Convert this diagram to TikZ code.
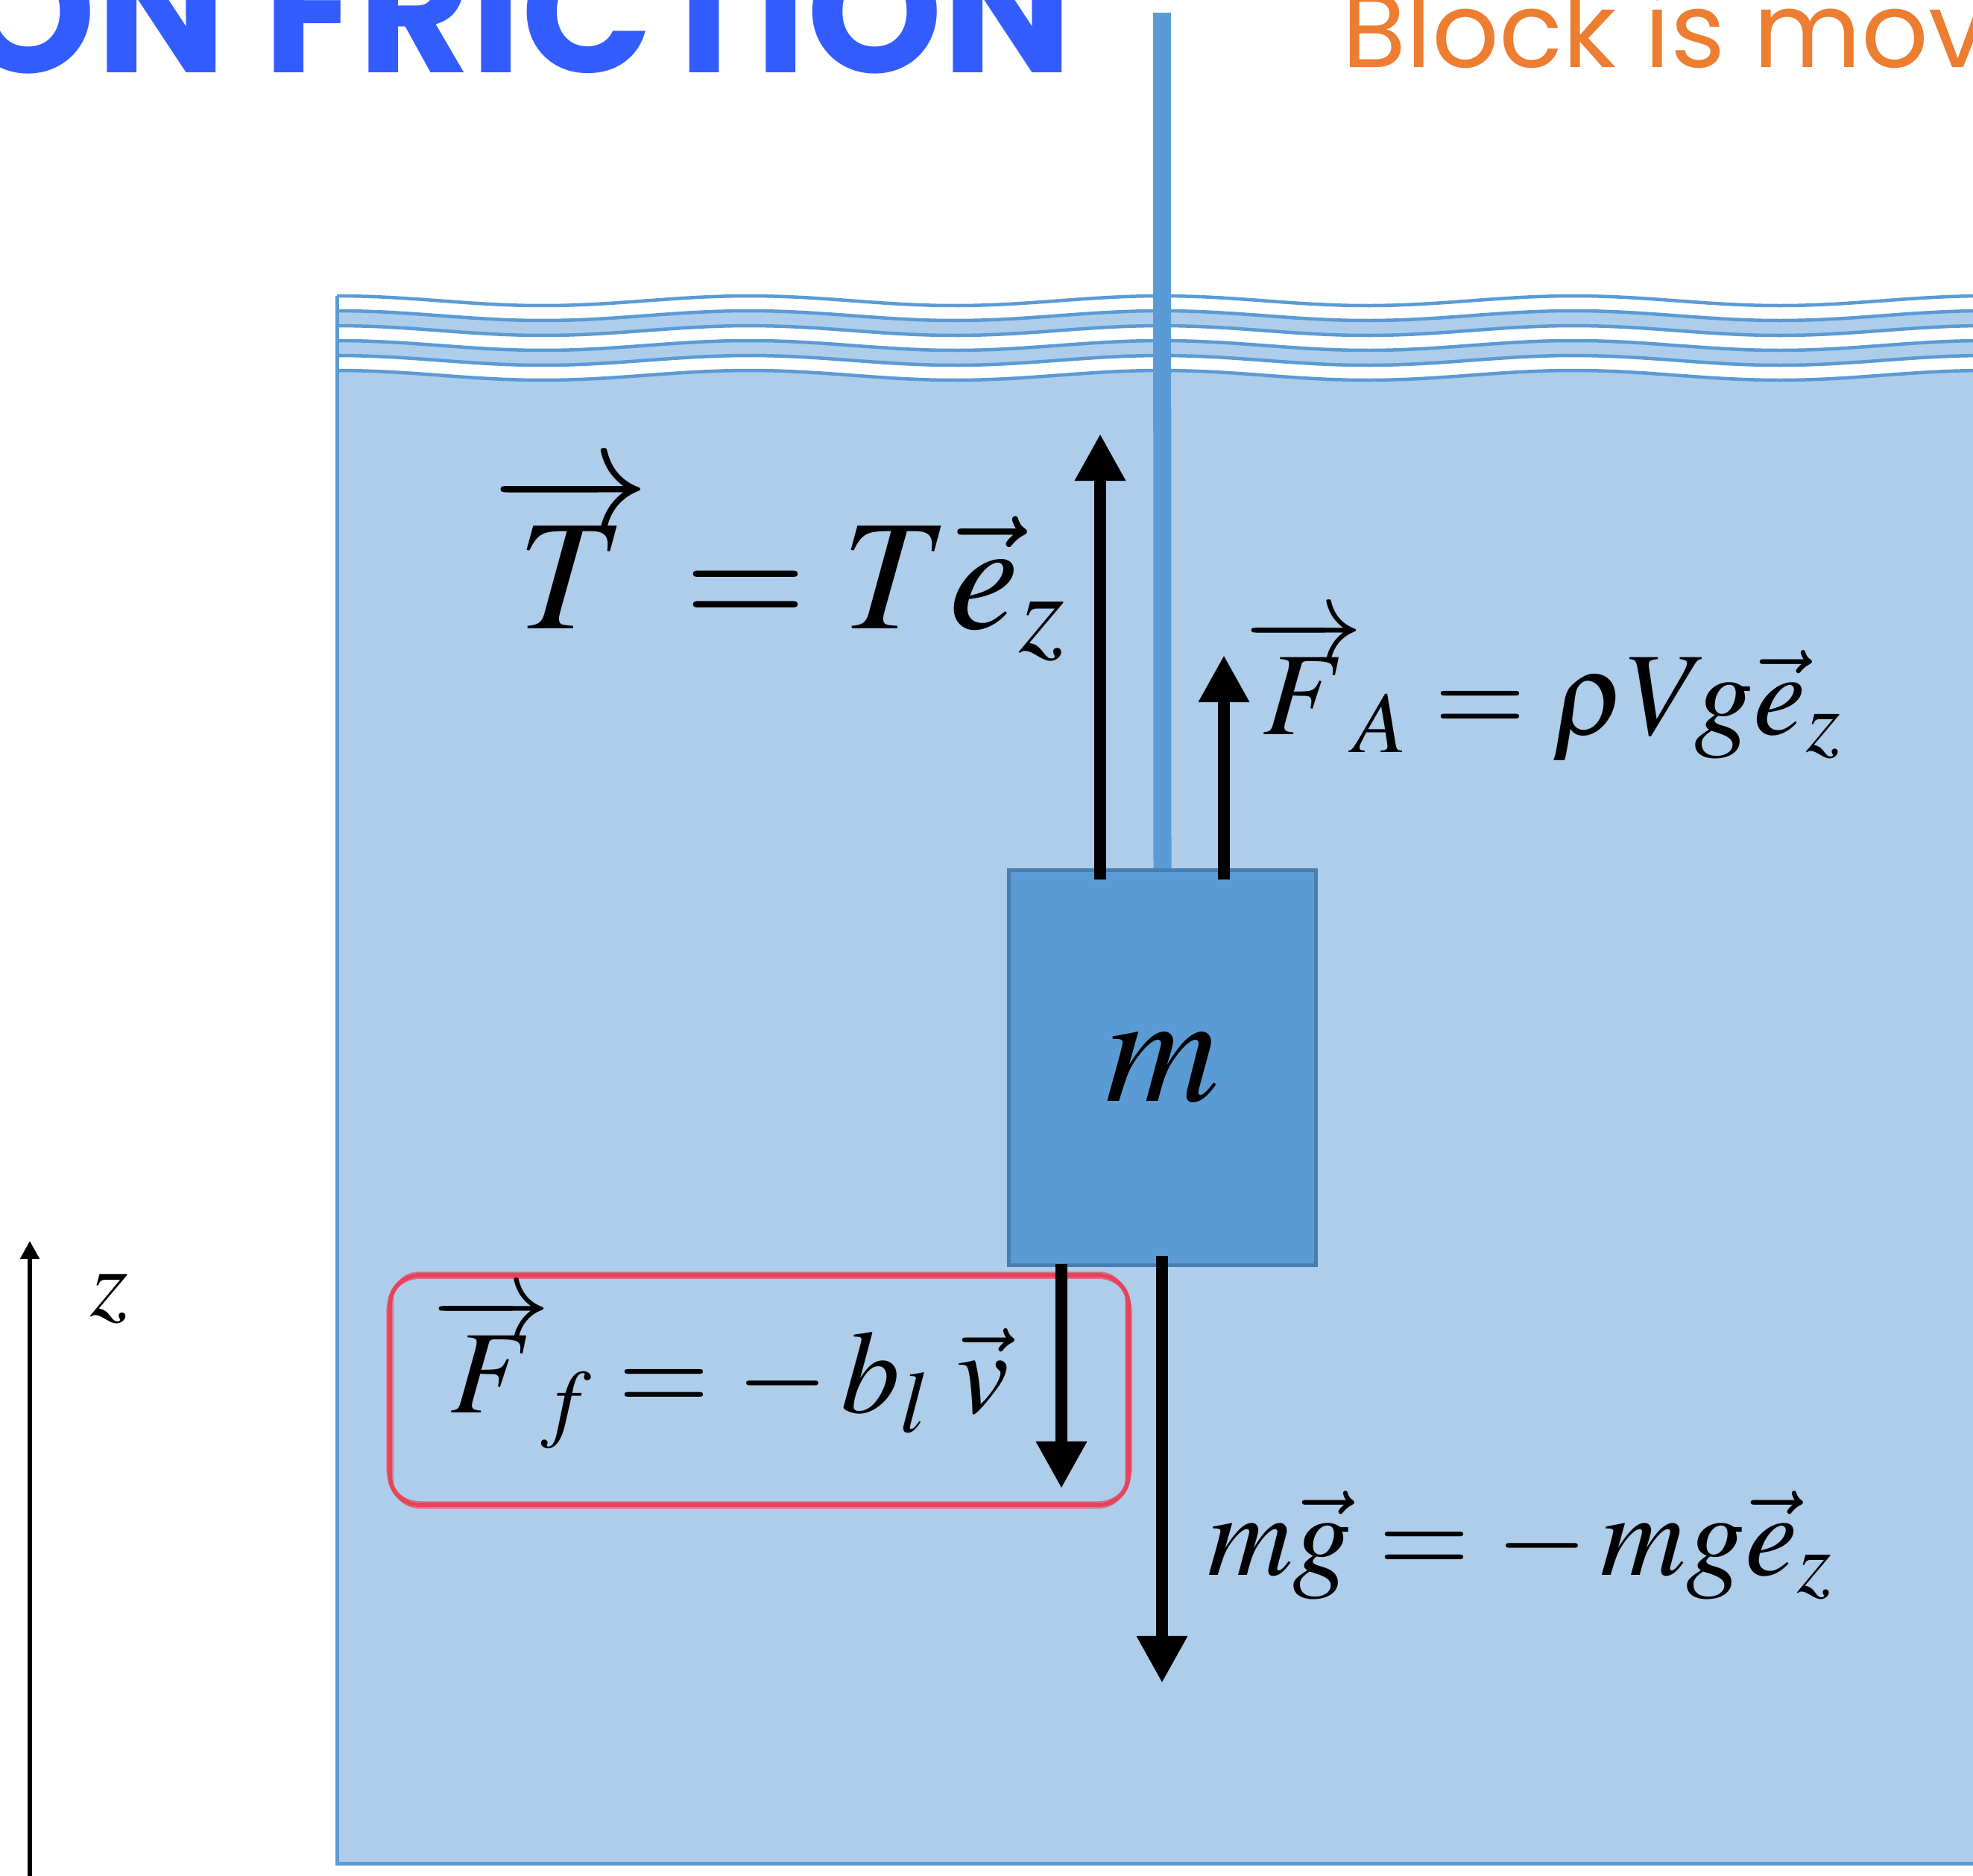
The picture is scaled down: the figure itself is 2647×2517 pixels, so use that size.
\documentclass[tikz,border=0pt]{standalone}
\usepackage{mathptmx}
\usepackage[no-math]{fontspec}
\usetikzlibrary{arrows.meta}
\newfontfamily\poppins{Poppins}
\definecolor{waterfill}{RGB}{174,205,234}
\definecolor{waterline}{RGB}{91,155,213}
\definecolor{blockline}{RGB}{72,125,176}
\definecolor{markred}{RGB}{232,67,90}
\definecolor{titleblue}{RGB}{51,92,255}
\definecolor{textorange}{RGB}{237,125,49}
\begin{document}
\begin{tikzpicture}[x=0.01cm, y=-0.01cm, line cap=butt,
  force/.style={line width=1.6mm, -{Triangle[length=6.3mm, width=6.4mm]}},
  wave/.style={draw=waterline, line width=0.45mm},
  bigmath/.style={inner sep=0pt, font=\fontsize{60}{72}\selectfont},
  midmath/.style={inner sep=0pt, font=\fontsize{45}{54}\selectfont}]
	\useasboundingbox (0,0) rectangle (2647,2517);
	\clip (0,0) rectangle (2647,2517);
	
	\foreach \i in {1,3}
		\fill[waterfill] plot[domain=452:2700, samples=160, variable=\t] (\t, {403.5+20*\i-6.5*cos(0.651*(\t-452))})
			-- plot[domain=2700:452, samples=160, variable=\t] (\t, {423.5+20*\i-6.5*cos(0.651*(\t-452))}) -- cycle;
	\fill[waterfill] plot[domain=452:2700, samples=160, variable=\t] (\t, {503.5-6.5*cos(0.651*(\t-452))})
		-- (2700,2500) -- (452,2500) -- cycle;
	\foreach \i in {0,...,5}
		\draw[wave] plot[domain=452:2700, samples=160, variable=\t] (\t, {403.5+20*\i-6.5*cos(0.651*(\t-452))});
	\draw[waterline, line width=0.5mm] (452,397) -- (452,2500) -- (2700,2500);
	
	\node[draw=blockline, fill=waterline, line width=0.5mm, minimum width=4.12cm, minimum height=5.3cm, bigmath] (block) at (1559.5,1432.5) {$m$};
	\coordinate (ropetop) at (1559,17);
	\draw[waterline, line width=2.4mm] (ropetop) -- (block.north);
	
	\draw[markred, line width=0.6mm, rounded corners=4mm] (523,1711) rectangle (1514,2019);
	\draw[markred, line width=0.15mm, rounded corners=4.5mm, opacity=0.7] (519,1715) rectangle (1518,2015);
	\draw[markred, line width=0.15mm, rounded corners=3.5mm, opacity=0.7] (527,1707) rectangle (1510,2023);
	
	\foreach \n/\x/\ya/\yb in {T/1476/1180/582, FA/1642/1180/879, Ff/1424/1696/1997, G/1559/1685/2258} {
		\coordinate (\n0) at (\x,\ya);
		\coordinate (\n1) at (\x,\yb);
		\draw[force] (\n0) -- (\n1);
	}
	
	\node[bigmath, anchor=base west] (Tlab) at (660,843) {$\overrightarrow{T} = T\vec{e}_z$};
	\node[midmath, anchor=base west] (FAlab) at (1670,985) {$\overrightarrow{F}_{\!A} = \rho V\! g\vec{e}_z$};
	\node[midmath, anchor=base west] (Fflab) at (580,1895) {$\overrightarrow{F}_{\!f} = -\,b_l\;\vec{v}$};
	\node[midmath, anchor=base west] (Glab) at (1620,2113) {$m\vec{g} = -\,mg\vec{e}_z$};
	
	\coordinate (zbot) at (40,2530);
	\coordinate (ztop) at (40,1665);
	\draw[line width=0.5mm, -{Triangle[length=2.4mm, width=2.5mm]}] (zbot) -- (ztop);
	\node[inner sep=0pt, anchor=base west, font=\fontsize{37}{44}\selectfont] (zlab) at (121,1765) {$z$};
	
	\node[anchor=base east, inner sep=0pt, text=titleblue, font=\poppins\bfseries\fontsize{66}{72}\selectfont] (title) at (1440,97) {ON FRICTION};
	\node[anchor=base west, inner sep=0pt, text=textorange, font=\poppins\fontsize{40}{48}\selectfont] (subtitle) at (1800,90) {Block is mov};
\end{tikzpicture}
\end{document}
